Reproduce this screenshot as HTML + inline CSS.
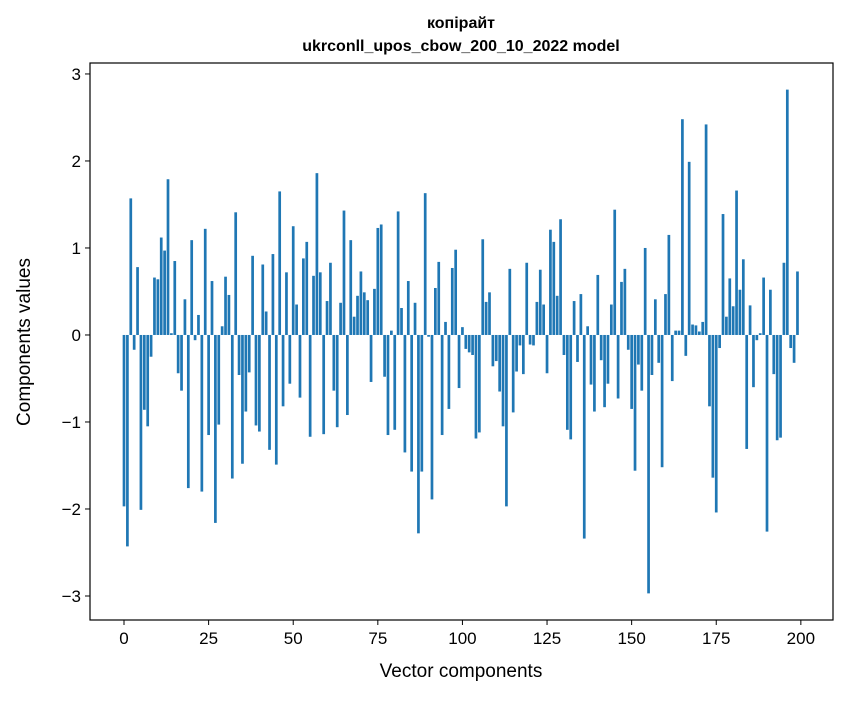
<!DOCTYPE html>
<html><head><meta charset="utf-8"><style>
body{margin:0;background:#fff;}
svg text{font-family:"Liberation Sans","DejaVu Sans",sans-serif;}
</style></head><body>
<svg id="chart" width="847" height="696">
<rect x="0" y="0" width="847" height="696" fill="#fff"/>
<g id="bars"></g>
<g id="axes"></g>
<text x="461" y="28" text-anchor="middle" font-size="16" font-weight="bold" style="font-family:'Liberation Sans Narrow','Liberation Sans',sans-serif">копірайт</text>
<text x="461" y="51" text-anchor="middle" font-size="16" font-weight="bold" style="font-family:'Liberation Sans Narrow','Liberation Sans',sans-serif">ukrconll_upos_cbow_200_10_2022 model</text>
<text x="461" y="677" text-anchor="middle" font-size="19">Vector components</text>
<text x="0" y="0" transform="translate(30,342) rotate(-90)" text-anchor="middle" font-size="19">Components values</text>
</svg>
<script>
const values = [-1.97,-2.43,1.57,-0.17,0.78,-2.01,-0.86,-1.05,-0.25,0.66,
0.64,1.12,0.97,1.79,0.02,0.85,-0.44,-0.64,0.41,-1.76,
1.09,-0.06,0.23,-1.80,1.22,-1.15,0.62,-2.16,-1.03,0.10,
0.67,0.46,-1.65,1.41,-0.46,-1.48,-0.88,-0.43,0.91,-1.04,
-1.11,0.81,0.27,-1.32,0.93,-1.49,1.65,-0.82,0.72,-0.56,
1.25,0.35,-0.72,0.88,1.07,-1.17,0.68,1.86,0.72,-1.14,
0.39,0.83,-0.64,-1.06,0.37,1.43,-0.92,1.09,0.21,0.45,
0.73,0.49,0.40,-0.54,0.53,1.23,1.27,-0.48,-1.15,0.05,
-1.09,1.42,0.31,-1.35,0.62,-1.57,0.37,-2.28,-1.57,1.63,
-0.02,-1.89,0.54,0.84,-1.15,0.15,-0.85,0.77,0.98,-0.61,
0.09,-0.16,-0.20,-0.23,-1.19,-1.12,1.10,0.38,0.49,-0.36,
-0.30,-0.65,-1.05,-1.97,0.76,-0.89,-0.42,-0.12,-0.45,0.83,
-0.11,-0.12,0.38,0.75,0.35,-0.44,1.21,1.07,0.45,1.33,
-0.23,-1.09,-1.20,0.39,-0.31,0.47,-2.34,0.10,-0.57,-0.88,
0.69,-0.29,-0.83,-0.56,0.35,1.44,-0.73,0.61,0.76,-0.17,
-0.85,-1.56,-0.34,-0.64,1.00,-2.97,-0.46,0.41,-0.32,-1.52,
0.47,1.15,-0.53,0.05,0.05,2.48,-0.24,1.99,0.12,0.11,
0.04,0.15,2.42,-0.82,-1.64,-2.04,-0.15,1.39,0.21,0.65,
0.33,1.66,0.52,0.87,-1.31,0.34,-0.60,-0.06,0.02,0.66,
-2.26,0.52,-0.45,-1.21,-1.18,0.83,2.82,-0.15,-0.32,0.73];
const xTicks = [0,25,50,75,100,125,150,175,200];
const yTicks = [-3,-2,-1,0,1,2,3];
const L=90,R=833,T=63,B=620, XMIN=-10.05, XMAX=209.5, YMIN=-3.276, YMAX=3.126;
const sx = v => L + (v-XMIN)/(XMAX-XMIN)*(R-L);
const sy = v => T + (YMAX-v)/(YMAX-YMIN)*(B-T);
const NS="http://www.w3.org/2000/svg";
const bars=document.getElementById('bars'), axes=document.getElementById('axes');
values.forEach((v,i)=>{
  const r=document.createElementNS(NS,'rect');
  const x0=sx(i-0.4), x1=sx(i+0.4), y0=sy(Math.max(v,0)), y1=sy(Math.min(v,0));
  r.setAttribute('x',x0);r.setAttribute('y',y0);
  r.setAttribute('width',x1-x0);r.setAttribute('height',Math.max(y1-y0,0.5));
  r.setAttribute('fill','#1f77b4');
  
  
  bars.appendChild(r);
});
const fr=document.createElementNS(NS,'rect');
fr.setAttribute('x',L);fr.setAttribute('y',T);fr.setAttribute('width',R-L);fr.setAttribute('height',B-T);
fr.setAttribute('fill','none');fr.setAttribute('stroke','#000');fr.setAttribute('stroke-width','1.2');


axes.appendChild(fr);
xTicks.forEach(t=>{
  const x=sx(t);
  const l=document.createElementNS(NS,'line');
  l.setAttribute('x1',x);l.setAttribute('x2',x);l.setAttribute('y1',B);l.setAttribute('y2',B+5);l.setAttribute('stroke','#000');
  
  
  axes.appendChild(l);
  const tx=document.createElementNS(NS,'text');
  tx.setAttribute('x',x);tx.setAttribute('y',B+24);tx.setAttribute('text-anchor','middle');tx.setAttribute('font-size','17');
  tx.textContent=t;
  
  
  axes.appendChild(tx);
});
yTicks.forEach(t=>{
  const y=sy(t);
  const l=document.createElementNS(NS,'line');
  l.setAttribute('x1',L-5);l.setAttribute('x2',L);l.setAttribute('y1',y);l.setAttribute('y2',y);l.setAttribute('stroke','#000');
  
  
  axes.appendChild(l);
  const tx=document.createElementNS(NS,'text');
  tx.setAttribute('x',L-9);tx.setAttribute('y',y+6);tx.setAttribute('text-anchor','end');tx.setAttribute('font-size','17');
  tx.textContent=t<0?'\u2212'+Math.abs(t):String(t);
  
  
  axes.appendChild(tx);
});
</script>
</body></html>
